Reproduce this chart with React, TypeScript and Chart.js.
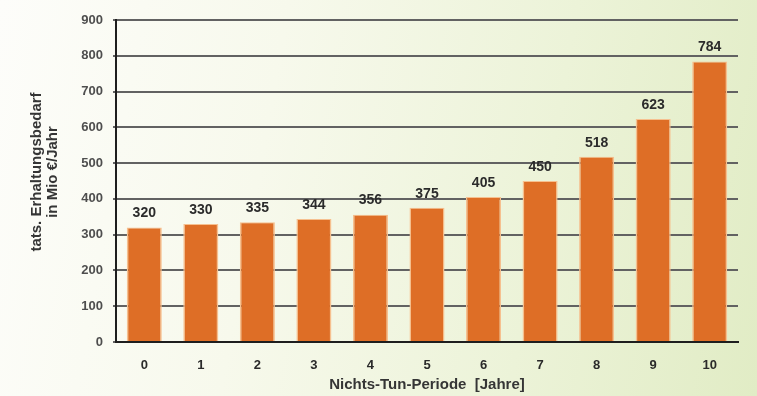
import { useEffect, useRef } from "react";
import { Chart, registerables } from "chart.js";

Chart.register(...registerables);

// Nichts-Tun-Periode in Jahren
const periods = ["0", "1", "2", "3", "4", "5", "6", "7", "8", "9", "10"];
// tatsächlicher Erhaltungsbedarf in Mio €/Jahr
const demand = [320, 330, 335, 344, 356, 375, 405, 450, 518, 623, 784];
const yTicks = [0, 100, 200, 300, 400, 500, 600, 700, 800, 900];
const yTitleLines = ["tats. Erhaltungsbedarf", "in Mio €/Jahr"];
const xTitle = "Nichts-Tun-Periode  [Jahre]";

const FONT = "'Liberation Sans', Arial, sans-serif";

// prints each bar's value above it
const valueLabels = {
  id: "valueLabels",
  afterDatasetsDraw(chart: any) {
    const { ctx } = chart;
    const meta = chart.getDatasetMeta(0);
    ctx.save();
    ctx.font = `bold 14px ${FONT}`;
    ctx.fillStyle = "#2b2b2b";
    ctx.textAlign = "center";
    ctx.textBaseline = "middle";
    meta.data.forEach((bar: any, i: number) => {
      ctx.fillText(String(demand[i]), bar.x, bar.y - 14);
    });
    ctx.restore();
  },
};

// two-line rotated title of the value axis
const yAxisTitle = {
  id: "yAxisTitle",
  afterDraw(chart: any) {
    const { ctx, chartArea } = chart;
    const cy = (chartArea.top + chartArea.bottom) / 2 - 9;
    ctx.save();
    ctx.font = `bold 15px ${FONT}`;
    ctx.fillStyle = "#353535";
    ctx.textAlign = "center";
    ctx.textBaseline = "middle";
    yTitleLines.forEach((line, i) => {
      ctx.save();
      ctx.translate(37 + i * 16, cy);
      ctx.rotate(-Math.PI / 2);
      ctx.fillText(line, 0, 0);
      ctx.restore();
    });
    ctx.restore();
  },
};

export default function App() {
  const canvasRef = useRef<HTMLCanvasElement>(null);

  useEffect(() => {
    document.body.style.margin = "0";
    const canvas = canvasRef.current;
    if (!canvas) return;
    const chart = new Chart(canvas, {
      type: "bar",
      data: {
        labels: periods,
        datasets: [
          {
            data: demand,
            backgroundColor: "#de6e26",
            borderColor: "#f6c08f",
            borderWidth: { left: 1.5, right: 1.5, top: 1, bottom: 0 },
            borderSkipped: false,
            barPercentage: 0.62,
            categoryPercentage: 1,
          },
        ],
      },
      options: {
        responsive: false,
        animation: false,
        devicePixelRatio: 1,
        layout: { padding: { left: 0, right: 19, top: 20, bottom: 0 } },
        plugins: {
          legend: { display: false },
          tooltip: { enabled: false },
        },
        scales: {
          x: {
            grid: { display: false, drawTicks: false },
            border: { display: true, color: "#1e1e1e", width: 2 },
            ticks: {
              padding: 16,
              color: "#2a2a2a",
              font: { family: FONT, size: 13, weight: "bold" },
            },
            title: {
              display: true,
              text: xTitle,
              color: "#353535",
              font: { family: FONT, size: 15, weight: "bold" },
              padding: { top: 0, bottom: 2 },
            },
            afterFit(scale: any) {
              scale.height = 54;
            },
          },
          y: {
            min: 0,
            max: 900,
            afterBuildTicks(scale: any) {
              scale.ticks = yTicks.map((v) => ({ value: v }));
            },
            grid: {
              color: "#626262",
              lineWidth: 2,
              drawTicks: true,
              tickLength: 3,
            },
            border: { display: true, color: "#1e1e1e", width: 2 },
            ticks: {
              padding: 10,
              color: "#4e4e4e",
              font: { family: FONT, size: 13, weight: "bold" },
            },
            afterFit(scale: any) {
              scale.width = 116;
            },
          },
        },
      },
      plugins: [valueLabels, yAxisTitle],
    });
    return () => chart.destroy();
  }, []);

  return (
    <div
      style={{
        width: 757,
        height: 396,
        background:
          "linear-gradient(100deg, #fdfdfa 0%, #f7f9ec 35%, #ecf3d8 70%, #e1ecc5 100%)",
      }}
    >
      <canvas ref={canvasRef} width={757} height={396} style={{ display: "block" }} />
    </div>
  );
}
